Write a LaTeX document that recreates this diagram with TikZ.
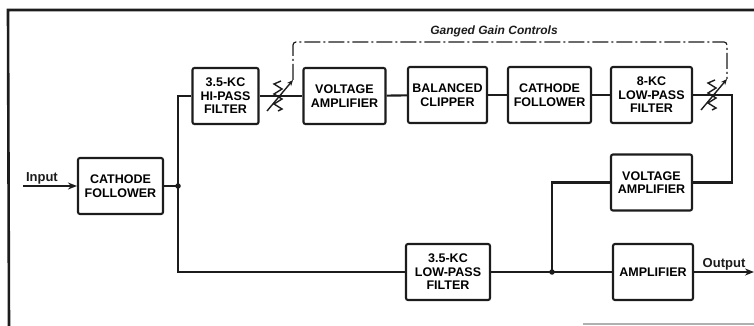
\documentclass[tikz,border=0pt]{standalone}
\usepackage{fontspec}
\setmainfont{Liberation Sans}
\usetikzlibrary{arrows.meta,calc}
\definecolor{tinta}{HTML}{1C1C1C}
\definecolor{borde}{HTML}{B0B0B0}

\tikzset{
  bloque/.style={draw=tinta, line width=2.1pt, rounded corners=2pt, minimum height=56pt, inner sep=0pt, align=center, font=\fontsize{12.5}{13.5}\selectfont\bfseries},
  senal/.style={draw=tinta, line width=2.1pt},
  mando/.style={draw=tinta, line width=1.2pt, dash pattern=on 16pt off 3pt on 2pt off 3pt, rounded corners=3pt},
  punto/.style={circle, fill=tinta, inner sep=0pt, minimum size=5.5pt},
  rotulo/.style={text=tinta, font=\fontsize{13}{13}\selectfont\bfseries}
}

\begin{document}
\begin{tikzpicture}[x=1pt, y=-1pt, >={Stealth[length=9pt,width=7pt]}]
\useasboundingbox (0,0) rectangle (754,326);
% marco del recorte
\draw[line width=2.6pt, tinta] (754,10) -- (8,10) -- (9,326);
\draw[line width=1.4pt, borde] (583,324) -- (754,324);
\foreach \n/\x/\y/\w/\t in {cf1/120.5/186/85/{CATHODE\\FOLLOWER}, hpf/225.5/96/66/{3.5-KC\\HI-PASS\\FILTER}, va1/344.5/96/82/{VOLTAGE\\AMPLIFIER}, bc/447.5/95/79/{BALANCED\\CLIPPER}, cf2/549.5/95/83/{CATHODE\\FOLLOWER}, lpf8/651.5/95/81/{8-KC\\LOW-PASS\\FILTER}, va2/651.5/182.5/81/{VOLTAGE\\AMPLIFIER}, lpf35/448/272/84/{3.5-KC\\LOW-PASS\\FILTER}, amp/653/272/80/{AMPLIFIER}}
  \node[bloque, minimum width=\w] (\n) at (\x,\y) {\t};
\coordinate (ent) at (23,186);
\coordinate (j1) at (178,186);
\coordinate (j2) at (552,272);
\coordinate (rt) at (732,95);
\coordinate (sal) at (754,272);
\coordinate (lazo) at (0,42);
\coordinate (p1) at (278,96);
\coordinate (p2) at (712,95);
% cadena de senal
\draw[senal, ->] (ent) -- node[rotulo, above, pos=0.35, inner sep=1pt] (inp) {Input} (cf1);
\draw[senal] (cf1) -- (j1);
\draw[senal] (hpf) -| (j1) |- (lpf35);
\draw[senal] (hpf) -- (va1);
\draw[senal] (va1) -- (bc);
\draw[senal] (bc) -- (cf2);
\draw[senal] (cf2) -- (lpf8);
\draw[senal] (lpf8) -- (rt) |- (va2);
\draw[senal] (lpf35) -- (j2) -- (amp);
\draw[senal] (j2) |- (va2);
\draw[senal, ->] (amp) -- node[rotulo, above, inner sep=1pt] (outp) {Output} (sal);
\node[punto] (d1) at (j1) {};
\node[punto] (d2) at (j2) {};
% controles de ganancia
\foreach \p in {p1,p2} {
  \draw[tinta, line width=1.4pt] ($(\p)+(3,-15)$) -- ++(-7,3) -- ++(8,5) -- ++(-8,5) -- ++(8,5) -- ++(-8,5) -- ++(8,5) -- ++(-4,2);
  \draw[tinta, line width=1.4pt, -{Stealth[length=6pt,width=5pt]}] ($(\p)+(-11,15)$) -- ($(\p)+(15,-16)$) coordinate (\p-tip);
}
\draw[mando] (p1-tip) -- (p1-tip |- lazo) -- (p2-tip |- lazo) -- (p2-tip);
\node[text=tinta, font=\fontsize{12}{12}\selectfont\bfseries\itshape] (gang) at (494,31) {Ganged Gain Controls};
\end{tikzpicture}
\end{document}
